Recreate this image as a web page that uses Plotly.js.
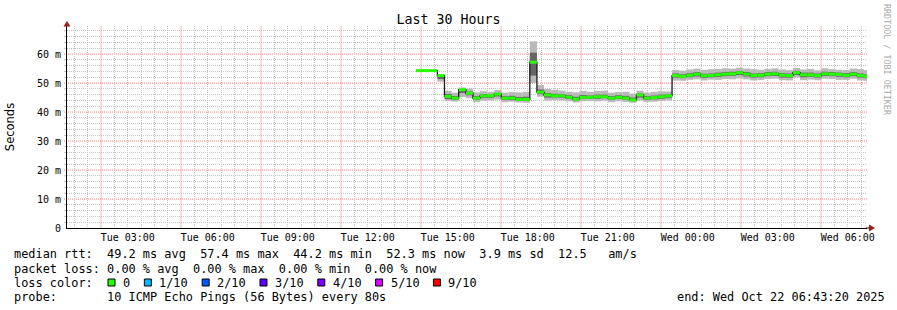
<!DOCTYPE html>
<html>
<head>
<meta charset="utf-8">
<script src="https://cdn.plot.ly/plotly-3.0.1.min.js"></script>
<style>html,body{margin:0;padding:0;background:#fff}#chart{width:897px;height:310px}</style>
</head>
<body>
<div id="chart"></div>
<script>
// ---- data ----
const rangeStart = '2025-10-21 00:43:20';
const rangeEnd   = '2025-10-22 06:43:20';
const sampleStart = '2025-10-21 13:48:40';
const sampleStepMs = 960000; // 16 min consolidation step

const median = [54.3,54.3,54.3,52.6,45.4,44.8,47.7,46.5,44.8,45.6,45.6,46.2,44.8,44.8,44.4,44.4,
  57.2,46.9,45.9,45.6,45.6,45.1,44.5,45.1,45.1,45.3,45.3,44.8,45.1,44.8,44.2,45.9,
  44.8,45.0,45.3,45.6,52.6,52.3,52.7,53.1,52.5,52.6,52.85,53.1,53.2,53.6,53.1,52.6,
  52.7,53.1,53.2,52.7,52.6,53.6,52.85,52.85,52.6,53.2,53.1,53.0,52.7,53.1,52.6,52.3];
const smokeMin = [54.3,54.3,54.3,50.5,43.8,43.6,45.2,44.8,43.5,43.9,44.0,44.3,43.4,43.6,43.3,43.2,
  50.0,45.3,44.0,44.1,44.0,43.7,43.3,43.7,43.8,43.7,43.9,43.4,43.7,43.5,43.2,44.0,
  43.5,43.6,43.8,44.0,50.9,50.8,51.1,51.3,50.9,51.2,51.1,51.4,51.3,51.6,51.3,50.9,
  51.1,51.4,51.5,51.0,50.9,51.9,51.0,51.2,51.0,51.5,51.4,51.1,51.1,51.5,50.9,50.8];
const smokeMax = [54.3,54.3,54.3,52.9,47.3,46.7,48.5,48.1,46.8,47.2,47.0,47.6,46.7,46.9,46.8,47.0,
  64.4,49.3,48.0,47.7,47.4,47.0,46.8,47.3,47.0,47.3,47.4,46.7,46.9,47.0,46.4,47.4,
  46.7,47.0,47.2,47.1,54.5,54.3,54.7,55.0,54.6,54.8,54.9,55.1,55.0,55.3,55.0,54.8,
  54.6,54.9,55.1,54.7,54.5,55.2,54.7,54.9,54.4,55.1,54.8,54.6,54.5,55.0,54.8,54.5];
const smokeInnerLo = [54.3,54.3,54.3,51.4,44.5,44.2,46.6,45.8,44.2,44.9,44.9,45.4,44.2,44.1,43.9,43.9,
  52.6,46.2,45.0,45.0,45.0,44.5,44.0,44.5,44.6,44.6,44.8,44.2,44.5,44.3,43.8,45.0,
  44.2,44.4,44.6,44.9,51.9,51.7,52.0,52.3,51.8,52.0,52.1,52.4,52.5,52.8,52.3,51.9,
  52.0,52.4,52.5,51.9,51.9,52.8,52.0,52.2,51.9,52.5,52.4,52.2,52.0,52.4,51.9,51.7];
const smokeInnerHi = [54.3,54.3,54.3,52.6,46.2,45.5,47.9,47.1,45.5,46.2,46.0,46.6,45.5,45.6,45.2,45.3,
  60.5,47.8,46.6,46.3,46.2,45.8,45.3,45.9,45.7,46.0,46.0,45.5,45.8,45.6,45.0,46.4,
  45.5,45.7,46.0,46.1,53.3,53.0,53.4,53.8,53.2,53.3,53.6,53.8,53.9,54.2,53.8,53.3,
  53.4,53.8,53.9,53.4,53.3,54.2,53.6,53.6,53.3,53.9,53.8,53.6,53.4,53.8,53.3,53.0];

const yTickVals = [0,10,20,30,40,50,60];
const yTickText = ['0','10 m','20 m','30 m','40 m','50 m','60 m'];
const lossLabels = ['0','1/10','2/10','3/10','4/10','5/10','9/10'];
const lossColors = ['#26ff00','#00b8ff','#0059ff','#5e00ff','#7e00ff','#dd00ff','#ff0000'];

const statsRtt  = 'median rtt:  49.2 ms avg  57.4 ms max  44.2 ms min  52.3 ms now  3.9 ms sd  12.5   am/s';
const statsLoss = 'packet loss: 0.00 % avg  0.00 % max  0.00 % min  0.00 % now';
const probeText = 'probe:       10 ICMP Echo Pings (56 Bytes) every 80s';
const endText   = 'end: Wed Oct 22 06:43:20 2025';

// ---- helpers ----
function toStr(ms){ return new Date(ms).toISOString().slice(0,19).replace('T',' '); }
const parseMs = s => Date.parse(s.replace(' ','T') + 'Z');
const startMs = parseMs(sampleStart);
const times = median.map((_, i) => toStr(startMs + i * sampleStepMs));
const nbsp = s => s.replace(/ /g, '\u00a0');

const L = 67, R = 30, T = 26, B = 82, W = 897, H = 310;
const PW = W - L - R, PH = H - T - B;
const PX = px => (px - L) / PW;
const PY = py => (H - B - py) / PH;

const MONO = 'DejaVu Sans Mono';
const CH = 7.154; // char advance of the legend font
const HOUR = 3600000;
const Y_RANGE = [0, 69.7];
const r1 = parseMs(rangeEnd);

// grid positions: red every 3 h from 02:00 and every 10 ms; grey every 30 min / 2 ms elsewhere
const redX = [], greyX = [];
const gridX0 = parseMs('2025-10-21 00:30:00');
for (let i = 0; gridX0 + i * HOUR / 2 <= r1; i++) {
  const t = toStr(gridX0 + i * HOUR / 2);
  if (i % 6 === 3) redX.push(t); else greyX.push(t);
}
const redY = [], greyY = [];
for (let v = 2; v < 70; v += 2) (v % 10 === 0 ? redY : greyY).push(v);

// ---- traces ----
const outer = {
  type: 'bar', x: times, base: smokeMin, y: smokeMax.map((v,i)=>v - smokeMin[i]),
  width: sampleStepMs, offset: 0, marker: {color: '#b9b9b9', line: {width: 0}},
  hoverinfo: 'skip', showlegend: false
};
const inner = {
  type: 'bar', x: times, base: smokeInnerLo, y: smokeInnerHi.map((v,i)=>v - smokeInnerLo[i]),
  width: sampleStepMs, offset: 0, marker: {color: '#666666', line: {width: 0}},
  hoverinfo: 'skip', showlegend: false
};
const medLine = {
  type: 'scatter', mode: 'lines', x: times, y: median,
  line: {shape: 'hv', color: '#1a1a1a', width: 1.3}, hoverinfo: 'skip', showlegend: false
};
const gx = [], gy = [];
median.forEach((v, i) => {
  gx.push(times[i], toStr(startMs + (i + 1) * sampleStepMs), null);
  gy.push(v, v, null);
});
const medGreen = {
  type: 'scatter', mode: 'lines', x: gx, y: gy,
  line: {color: lossColors[0], width: 3}, hoverinfo: 'skip', showlegend: false
};
// grid carrier: invisible trace that gives the grey grid axes their subplot
const carrierGrey = {type: 'scatter', mode: 'lines', x: [rangeStart, rangeEnd], y: [null, null],
  xaxis: 'x2', yaxis: 'y2', hoverinfo: 'skip', showlegend: false};

// ---- annotations & shapes ----
const ann = [];
const legendY = [254.5, 268.5, 282.5, 296.5];
function txt(px, py, s, extra){
  ann.push(Object.assign({xref:'paper', yref:'paper', x: PX(px), y: PY(py), text: nbsp(s),
    showarrow:false, xanchor:'left', yanchor:'middle', borderpad:0, borderwidth:0,
    font:{family: MONO, size: 11.9, color:'#000'}}, extra || {}));
}
txt(14, legendY[0], statsRtt);
txt(14, legendY[1], statsLoss);
txt(14, legendY[2], 'loss color:');
txt(14, legendY[3], probeText);
txt(677, legendY[3], endText);

const RED = '#ff8080', RED_V = '#ffb4b4', GREY = '#c4c4c4', DASH = '1px,1px';

const shapes = [];
// red major grid (drawn beneath the data)
redX.forEach(t => shapes.push({type:'line', layer:'below', xref:'x', yref:'paper',
  x0:t, x1:t, y0:0, y1:1, line:{color:RED_V, width:1}}));
redY.forEach(v => shapes.push({type:'line', layer:'below', xref:'paper', yref:'y', x0:PX(64), x1:1,
  y0:v, y1:v, line:{color:RED, width:1, dash:DASH}}));
greyY.forEach(v => shapes.push({type:'line', layer:'below', xref:'paper', yref:'y', x0:PX(64), x1:0,
  y0:v, y1:v, line:{color:GREY, width:1}}));

let sq = 108;
lossLabels.forEach((lab, i) => {
  shapes.push({type:'rect', xref:'paper', yref:'paper', x0: PX(sq), x1: PX(sq + 7),
    y0: PY(legendY[2] + 3.5), y1: PY(legendY[2] - 3.5), fillcolor: lossColors[i],
    line:{color:'#000', width:1}});
  const tx = sq + 15;
  txt(tx, legendY[2], lab);
  sq = tx + lab.length * CH + 14.2;
});

// right-side credit
ann.push({xref:'paper', yref:'paper', x: PX(887), y: PY(60), text: nbsp('RRDTOOL / TOBI OETIKER'),
  textangle: 90, showarrow:false, xanchor:'center', yanchor:'middle', borderpad:0,
  font:{family: MONO, size: 8.4, color:'#ababab'}});

// axis arrows
const arrowColor = '#a11b1b';
shapes.push({type:'path', xref:'paper', yref:'paper',
  path: `M ${PX(67)} ${PY(21)} L ${PX(63.5)} ${PY(26.5)} L ${PX(70.5)} ${PY(26.5)} Z`,
  fillcolor: arrowColor, line:{width:0}});
shapes.push({type:'line', xref:'paper', yref:'paper', x0: PX(866), x1: PX(870), y0: 0, y1: 0,
  line:{color:'#000', width:1}});
shapes.push({type:'path', xref:'paper', yref:'paper',
  path: `M ${PX(875)} ${PY(228)} L ${PX(869)} ${PY(224.5)} L ${PX(869)} ${PY(231.5)} Z`,
  fillcolor: arrowColor, line:{width:0}});

const layout = {
  width: W, height: H,
  margin: {l: L, r: R, t: T, b: B, pad: 0},
  paper_bgcolor: '#fff', plot_bgcolor: 'rgba(0,0,0,0)',
  showlegend: false, barmode: 'overlay',
  title: {text: 'Last 30 Hours', font: {family: MONO, size: 13.3, color: '#000'},
    x: 448.5 / W, xref: 'container', xanchor: 'center', y: 1 - 19 / H, yref: 'container', yanchor: 'middle'},
  xaxis: {
    type: 'date', range: [rangeStart, rangeEnd], tickmode: 'linear',
    tick0: '2025-10-21 03:00:00', dtick: 3 * HOUR, tickformat: '%a %H:%M',
    showgrid: false, zeroline: false, showline: true, linecolor: '#000', linewidth: 1,
    ticks: '', tickfont: {family: MONO, size: 10, color: '#000'}, fixedrange: true
  },
  xaxis2: {type: 'date', overlaying: 'x', anchor: 'y', side: 'bottom', range: [rangeStart, rangeEnd],
    tickmode: 'array', tickvals: greyX, showticklabels: false, ticks: '',
    showline: false, zeroline: false, showgrid: true, gridcolor: GREY, griddash: DASH,
    gridwidth: 1, fixedrange: true},
  yaxis: {
    range: Y_RANGE, tickmode: 'array', tickvals: yTickVals, ticktext: yTickText,
    showgrid: false, zeroline: false, showline: true, linecolor: '#000', linewidth: 1,
    ticks: 'outside', ticklen: 3, tickcolor: 'rgba(0,0,0,0)',
    tickfont: {family: MONO, size: 10, color: '#000'},
    title: {text: 'Seconds', font: {family: 'DejaVu Sans', size: 11.5, color: '#000'}, standoff: 19},
    fixedrange: true
  },
  yaxis2: {overlaying: 'y', anchor: 'x', side: 'left', range: Y_RANGE, tickmode: 'array',
    tickvals: greyY, showticklabels: false, ticks: '',
    showline: false, zeroline: false, showgrid: true, gridcolor: GREY, griddash: DASH,
    gridwidth: 1, fixedrange: true},
  annotations: ann,
  shapes: shapes
};

Plotly.newPlot('chart', [outer, inner, medLine, medGreen, carrierGrey], layout,
  {staticPlot: true, displayModeBar: false});
</script>
</body>
</html>
